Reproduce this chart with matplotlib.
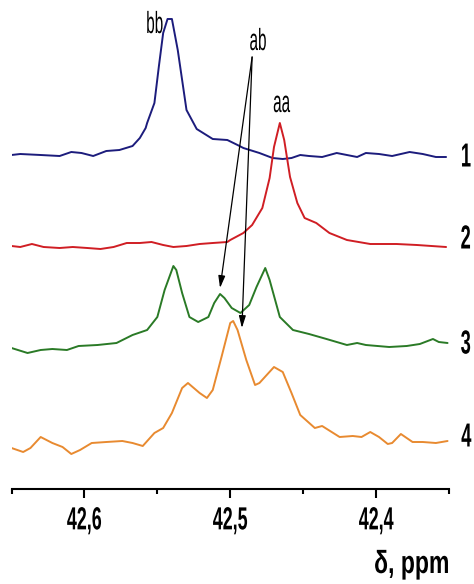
import matplotlib
matplotlib.use('Agg')
import matplotlib.pyplot as plt
from matplotlib.patheffects import AbstractPathEffect
from matplotlib.transforms import Affine2D

plt.rcParams['font.family'] = ['Liberation Sans', 'DejaVu Sans']

# спектры: сдвиг (ppm) и интенсивность относительно базовой линии
ppm1 = [42.650, 42.644, 42.630, 42.617, 42.609, 42.602, 42.594, 42.585, 42.576, 42.567,
        42.562, 42.558, 42.557, 42.552, 42.549, 42.546, 42.543, 42.540, 42.536, 42.531,
        42.530, 42.523, 42.512, 42.502, 42.495, 42.491, 42.480, 42.471, 42.464, 42.458,
        42.452, 42.446, 42.437, 42.427, 42.420, 42.413, 42.407, 42.398, 42.389, 42.377,
        42.368, 42.359, 42.352]
int1 = [0, 1, 0, -1, 3, 2, -1, 4, 5, 9,
        17, 27, 32, 52, 88, 122, 136, 136, 105, 55,
        45, 26, 16, 15, 10, 7, 2, -3, -4, -3,
        0, -1, -2, 2, 0, -2, 2, 1, -1, 3,
        1, -2, -2]

ppm2 = [42.650, 42.644, 42.636, 42.628, 42.617, 42.608, 42.598, 42.589, 42.580, 42.571,
        42.562, 42.554, 42.546, 42.539, 42.530, 42.521, 42.512, 42.502, 42.500, 42.491,
        42.485, 42.478, 42.473, 42.470, 42.466, 42.463, 42.459, 42.454, 42.449, 42.441,
        42.432, 42.420, 42.404, 42.386, 42.372, 42.352]
int2 = [0, -1, 2, -1, -2, -1, -2, -3, -1, 3,
        3, 4, 1, -1, 0, 2, 3, 4, 6, 13,
        21, 38, 68, 99, 123, 106, 69, 43, 28, 23,
        13, 6, 2, 2, 1, -1]

ppm3 = [42.650, 42.639, 42.630, 42.622, 42.612, 42.604, 42.591, 42.578, 42.567, 42.557,
        42.550, 42.545, 42.539, 42.537, 42.533, 42.528, 42.522, 42.515, 42.511, 42.507,
        42.504, 42.499, 42.493, 42.487, 42.482, 42.476, 42.473, 42.466, 42.457, 42.446,
        42.434, 42.420, 42.413, 42.407, 42.391, 42.379, 42.370, 42.361, 42.357, 42.351]
int3 = [0, -5, -2, -1, -2, 2, 3, 5, 13, 18,
        31, 58, 82, 78, 55, 31, 26, 31, 45, 54,
        50, 40, 35, 43, 61, 80, 68, 31, 18, 14,
        9, 3, 5, 3, 1, 2, 4, 9, 6, 5]

ppm4 = [42.650, 42.642, 42.637, 42.630, 42.622, 42.615, 42.609, 42.603, 42.595, 42.585,
        42.574, 42.567, 42.560, 42.552, 42.546, 42.540, 42.533, 42.529, 42.521, 42.516,
        42.512, 42.506, 42.500, 42.498, 42.495, 42.489, 42.483, 42.480, 42.475, 42.470,
        42.464, 42.458, 42.452, 42.442, 42.437, 42.425, 42.416, 42.410, 42.404, 42.398,
        42.392, 42.389, 42.383, 42.375, 42.368, 42.359, 42.351]
int4 = [-1, -5, -1, 10, 4, 0, -7, -3, 4, 5,
        6, 4, 1, 14, 19, 34, 59, 64, 54, 49,
        57, 90, 124, 126, 117, 87, 62, 64, 72, 80,
        75, 54, 32, 19, 21, 10, 11, 10, 15, 10,
        3, 4, 13, 5, 5, 4, 6]

spectra = [(ppm1, int1), (ppm2, int2), (ppm3, int3), (ppm4, int4)]
offsets = [334, 243, 141, 42]
colors = ['#1c1c7c', '#d01e24', '#2a7a26', '#e88a30']
numbers = ['1', '2', '3', '4']
number_y = [331, 249, 144, 51]

ticks = [42.6, 42.5, 42.4]
tick_labels = ['42,6', '42,5', '42,4']
minor_ticks = [42.65, 42.55, 42.45, 42.35]


class Squeeze(AbstractPathEffect):
    # узкий шрифт: сжимаем текст по горизонтали (вокруг центра или правого края)
    def __init__(self, sx, anchor='center'):
        super().__init__()
        self.sx = sx
        self.anchor = anchor

    def draw_path(self, renderer, gc, tpath, affine, rgbFace=None):
        ext = tpath.get_extents()
        cx = ext.x1 if self.anchor == 'right' else (ext.x0 + ext.x1) / 2
        t = Affine2D().translate(-cx, 0).scale(self.sx, 1).translate(cx, 0) + affine
        renderer.draw_path(gc, tpath, t, rgbFace)


fig = plt.figure(figsize=(4.74, 5.84), dpi=100)
ax = fig.add_axes([11.5 / 474, 95 / 584, 437.5 / 474, 489 / 584])

for (x, y), off, c in zip(spectra, offsets, colors):
    ax.plot(x, [v + off for v in y], color=c, lw=1.4,
            solid_joinstyle='round', solid_capstyle='round')

ax.set_xlim(42.65, 42.3503)
ax.set_ylim(0, 489)

for s in ['left', 'right', 'top']:
    ax.spines[s].set_visible(False)
ax.spines['bottom'].set_linewidth(1.5)
ax.set_yticks([])
ax.set_xticks(ticks)
ax.set_xticks(minor_ticks, minor=True)
labs = ax.set_xticklabels(tick_labels, fontsize=23, fontweight='bold')
for lab in labs:
    lab.set_path_effects([Squeeze(0.56)])
ax.tick_params(axis='x', which='major', length=6.5, width=1.5, pad=6)
ax.tick_params(axis='x', which='minor', length=3.5, width=1.5)

# номера спектров справа
for n, yy in zip(numbers, number_y):
    t = ax.text(42.3346, yy, n, fontsize=24, fontweight='bold', ha='right',
                va='center', clip_on=False)
    t.set_path_effects([Squeeze(0.55, anchor='right')])

# подписи пиков
for txt, xx, yy in [('bb', 42.552, 456), ('aa', 42.465, 377), ('ab', 42.481, 439)]:
    t = ax.text(xx, yy, txt, fontsize=22, ha='center', va='baseline')
    t.set_path_effects([Squeeze(0.5)])

arrow = dict(arrowstyle='-|>,head_length=0.6,head_width=0.17', color='black',
             lw=0.9, shrinkA=0, shrinkB=0, mutation_scale=12)
ax.annotate('', xy=(42.507, 201), xytext=(42.485, 432), arrowprops=arrow)
ax.annotate('', xy=(42.492, 161), xytext=(42.485, 432), arrowprops=arrow)

xl = fig.text(412 / 474, 11 / 584, 'δ, ppm', fontsize=23, fontweight='bold',
              ha='center', va='baseline')
xl.set_path_effects([Squeeze(0.72)])

fig.savefig('out.png', dpi=100)
